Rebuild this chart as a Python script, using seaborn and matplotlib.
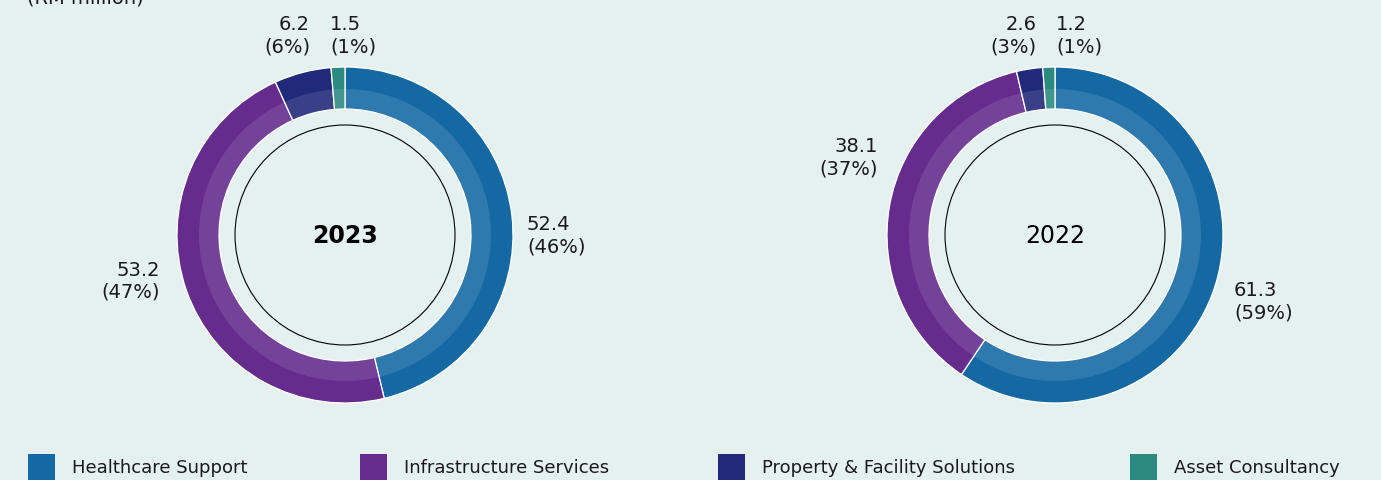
"""Revenue by segment donut charts, 2023 vs 2022."""
import matplotlib
matplotlib.use("Agg")
import matplotlib.pyplot as plt
from matplotlib.patches import Circle, Rectangle, Wedge
import seaborn as sns

# ---- data ----
segments = ["Healthcare Support", "Infrastructure Services",
            "Property & Facility Solutions", "Asset Consultancy"]
values_2023 = [52.4, 53.2, 6.2, 1.5]
pct_2023 = [46, 47, 6, 1]
values_2022 = [61.3, 38.1, 2.6, 1.2]
pct_2022 = [59, 37, 3, 1]
years = ["2023", "2022"]

seg_colors = ["#1569a3", "#652b8d", "#21297a", "#2b8a7f"]
BG = "#e5f1ef"

W, H = 1381, 481

sns.set_theme(style="white", rc={"figure.facecolor": BG, "axes.facecolor": BG})
plt.rcParams["font.family"] = ["DejaVu Sans"]

fig = plt.figure(figsize=(W / 100, H / 100), dpi=100)
ax = fig.add_axes([0, 0, 1, 1])


def py(y):
    """Convert pixel row (from top) to data y."""
    return H - y


R_OUT, R_MID, R_IN, R_CIRCLE = 168, 146, 126, 110
centers = [(345, 236), (1055, 236)]

# label anchors (pixel coords) and alignment for each segment
label_layout = [
    [(527, 236, "left"), (160, 281, "right"), (310, 36, "right"), (330, 36, "left")],
    [(1234, 302, "left"), (878, 158, "right"), (1037, 36, "right"), (1056, 36, "left")],
]

for i, (vals, pcts) in enumerate([(values_2023, pct_2023), (values_2022, pct_2022)]):
    cx, cy = centers[i]
    c = (cx, py(cy))
    ax.pie(vals, colors=seg_colors, radius=R_OUT, center=c, startangle=90,
           counterclock=False,
           wedgeprops=dict(width=R_OUT - R_IN, edgecolor="white", linewidth=0.9))
    # lighter inner band
    ax.add_patch(Wedge(c, R_MID, 0, 360, width=R_MID - R_IN, facecolor="white",
                       alpha=0.11, edgecolor="none"))
    ax.add_patch(Circle(c, R_CIRCLE, fill=False, edgecolor="black", linewidth=0.8))
    ax.text(cx, py(cy), years[i], ha="center", va="center", fontsize=17,
            fontweight="bold" if i == 0 else "normal", color="black")
    for (lx, ly, ha), v, p in zip(label_layout[i], vals, pcts):
        ax.text(lx, py(ly), f"{v}\n({p}%)", ha=ha, va="center", multialignment=ha,
                fontsize=14, color="#1a1a1a", linespacing=1.2)

ax.text(27, py(7), "(RM million)", ha="left", va="bottom", fontsize=14, color="#1a1a1a")

# legend
legend_x = [28, 360, 718, 1130]
for x, name, col in zip(legend_x, segments, seg_colors):
    ax.add_patch(Rectangle((x, py(482)), 27, 27, facecolor=col, edgecolor="none"))
    ax.text(x + 44, py(468), name, ha="left", va="center", fontsize=13, color="#1a1a1a")

ax.set_xlim(0, W)
ax.set_ylim(0, H)
ax.set_aspect("equal")
ax.axis("off")

fig.savefig("out.png", dpi=100, facecolor=BG)
plt.close(fig)
